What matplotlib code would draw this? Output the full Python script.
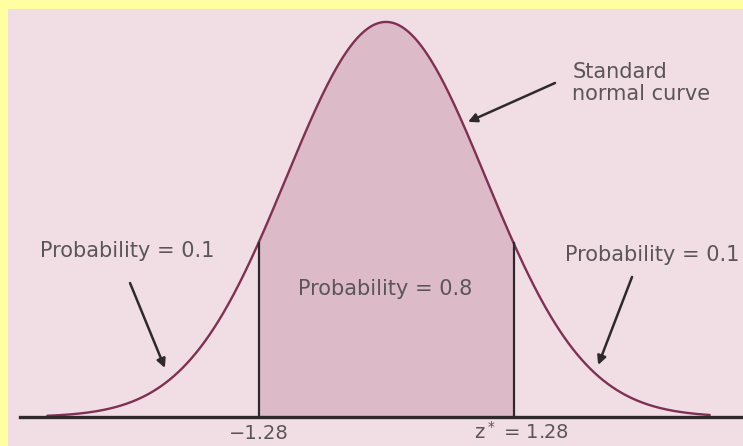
import numpy as np
import matplotlib
matplotlib.use("Agg")
import matplotlib.pyplot as plt

plt.rcParams["font.family"] = ["DejaVu Sans"]
plt.rcParams["mathtext.fontset"] = "dejavusans"

# 標準常態分配，中間 80% 的區間
z_star = 1.28
prob_tail = 0.1
prob_mid = 0.8
z_curve_lo, z_curve_hi = -3.4, 3.25

PAGE = "#F1DEE4"
SHADE = "#DDBAC8"
CURVE = "#7E3152"
INK = "#2E2A2C"
TEXT = "#5A5658"


def pdf(z):
    return np.exp(-z ** 2 / 2) / np.sqrt(2 * np.pi)


fig = plt.figure(figsize=(7.43, 4.46), dpi=100)
fig.patch.set_facecolor("#FFFFA2")
ax = fig.add_axes([8 / 743, 0, 735 / 743, 437 / 446])
ax.set_facecolor(PAGE)
ax.set_xlim(-3.795, 3.584)
ax.set_ylim(-0.0293, 0.412)
ax.set_xticks([])
ax.set_yticks([])
for sp in ax.spines.values():
    sp.set_visible(False)

z = np.linspace(z_curve_lo, z_curve_hi, 600)
zm = np.linspace(-z_star, z_star, 300)

ax.fill_between(zm, 0, pdf(zm), color=SHADE, lw=0, zorder=1)
ax.plot(z, pdf(z), color=CURVE, lw=1.7, zorder=3, solid_capstyle="round")
ax.plot([-3.67, 3.6], [0, 0], color=INK, lw=2.4, zorder=4, clip_on=False)
for zz in (-z_star, z_star):
    ax.plot([zz, zz], [0, pdf(zz)], color=INK, lw=1.6, zorder=4)

fs = 15
ax.text(-2.6, 0.1616, f"Probability = {prob_tail}", ha="center", va="baseline",
        fontsize=fs, color=TEXT)
ax.text(-0.01, 0.123, f"Probability = {prob_mid}", ha="center", va="baseline",
        fontsize=fs, color=TEXT)
ax.text(1.80, 0.1576, f"Probability = {prob_tail}", ha="left", va="baseline",
        fontsize=fs, color=TEXT)
ax.text(1.87, 0.3585, "Standard\nnormal curve", ha="left", va="top",
        fontsize=fs, color=TEXT, linespacing=1.15)

# 橫軸下方的臨界值標籤
ax.text(-z_star, -0.0225, f"\u2212{z_star}", ha="center", va="baseline",
        fontsize=14, color=TEXT)
ax.text(z_star + 0.08, -0.0225, rf"z$^*$ = {z_star}", ha="center", va="baseline",
        fontsize=14, color=TEXT)

arrow = dict(arrowstyle="-|>", color=INK, lw=1.8, mutation_scale=13,
             shrinkA=0, shrinkB=0)
ax.annotate("", xy=(-2.22, 0.0495), xytext=(-2.57, 0.1353), arrowprops=arrow)
ax.annotate("", xy=(2.13, 0.0525), xytext=(2.47, 0.1414), arrowprops=arrow)
ax.annotate("", xy=(0.823, 0.298), xytext=(1.697, 0.3373), arrowprops=arrow)

fig.savefig("out.png", dpi=100, facecolor=fig.get_facecolor())
